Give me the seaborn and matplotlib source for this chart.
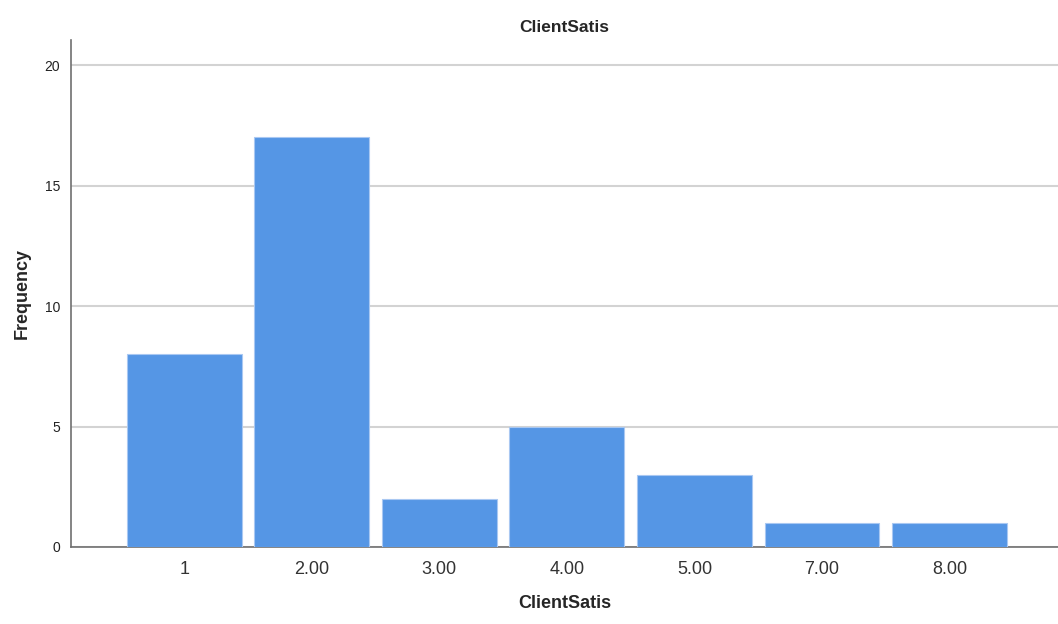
import matplotlib
matplotlib.use('Agg')
import matplotlib.pyplot as plt
import seaborn as sns
import pandas as pd

# values
categories = ['1', '2.00', '3.00', '4.00', '5.00', '7.00', '8.00']
frequency = [8, 17, 2, 5, 3, 1, 1]
y_ticks = [0, 5, 10, 15, 20]

df = pd.DataFrame({'ClientSatis': categories, 'Frequency': frequency})

sns.set_style('white')
plt.rcParams['font.family'] = ['Liberation Sans', 'DejaVu Sans']

fig = plt.figure(figsize=(10.58, 6.24), dpi=100)
ax = fig.add_axes([0.0671, 0.1234, 0.9329, 0.8125])

sns.barplot(data=df, x='ClientSatis', y='Frequency', order=categories,
            color='#5596E5', saturation=1, width=0.9,
            edgecolor='#A9C8F2', linewidth=0.8, ax=ax, zorder=3)

ax.set_xlim(-0.887, 6.85)
ax.set_ylim(0, 21.04)
ax.set_yticks(y_ticks)
ax.yaxis.grid(True, color='#D3D3D3', linewidth=1.5, zorder=0)
ax.set_axisbelow(True)

for side in ['top', 'right']:
    ax.spines[side].set_visible(False)
for side in ['left', 'bottom']:
    ax.spines[side].set_color('#707070')
    ax.spines[side].set_linewidth(1.2)

ax.tick_params(axis='x', length=0, labelsize=13, pad=10, colors='#333333')
ax.tick_params(axis='y', length=0, labelsize=10, pad=8, colors='#222222')

ax.set_title('ClientSatis', fontsize=12.5, fontweight='bold', pad=6)
ax.set_xlabel('ClientSatis', fontsize=13, fontweight='bold', labelpad=12)
ax.set_ylabel('Frequency', fontsize=13, fontweight='bold', labelpad=10)

fig.savefig('out.png', dpi=100)
